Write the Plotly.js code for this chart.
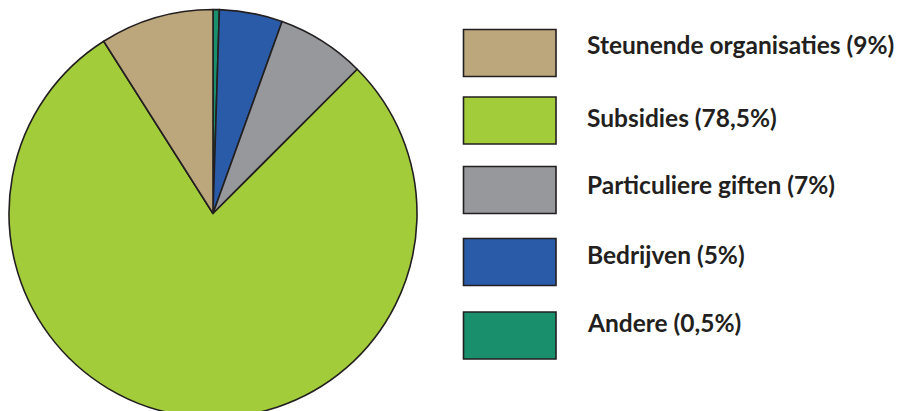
<!DOCTYPE html>
<html>
<head>
<meta charset="utf-8">
<script src="https://cdn.plot.ly/plotly-3.0.1.min.js"></script>
<style>
html, body { margin: 0; padding: 0; overflow: hidden; background: #fff; }
#chart { width: 898px; height: 430px; }
</style>
</head>
<body>
<div id="chart"></div>
<script>
// Data (legend order, top to bottom)
const categories = ['Steunende organisaties', 'Subsidies', 'Particuliere giften', 'Bedrijven', 'Andere'];
const values = [9, 78.5, 7, 5, 0.5];
const percentLabels = ['9%', '78,5%', '7%', '5%', '0,5%'];
const colors = ['#bca67b', '#a2cc3a', '#97989b', '#2a5ba8', '#1a8f6c'];

const W = 898, H = 430;
const px = x => x / W;
const py = y => 1 - y / H;

// Legend layout (pixels)
const boxX0 = 463.5, boxX1 = 556;
const boxTops = [29.5, 97, 166.5, 238.5, 312];
const boxH = 47;
const textX = 585;
const textMid = [45, 117.5, 184, 254, 322];

const shapes = [];
const annotations = [];
categories.forEach((c, i) => {
  shapes.push({
    type: 'rect', xref: 'paper', yref: 'paper',
    x0: px(boxX0), x1: px(boxX1), y0: py(boxTops[i] + boxH), y1: py(boxTops[i]),
    fillcolor: colors[i], line: { color: '#231f20', width: 1.6 }
  });
  annotations.push({
    xref: 'paper', yref: 'paper', x: px(textX), y: py(textMid[i]),
    xanchor: 'left', yanchor: 'middle', showarrow: false,
    text: c + ' (' + percentLabels[i] + ')',
    font: { family: 'Lato, sans-serif', size: 24.5, color: '#231f20', weight: 700 }
  });
});

// Pie drawn clockwise from 12 o'clock: Andere, Bedrijven, Particuliere, Subsidies, Steunende
const rev = a => a.slice().reverse();
const cx = 213, cy = 213.5, r = 204;
const trace = {
  type: 'pie',
  labels: rev(categories),
  values: rev(values),
  sort: false,
  direction: 'clockwise',
  rotation: 0,
  marker: { colors: rev(colors), line: { color: '#231f20', width: 1.6 } },
  textinfo: 'none',
  hoverinfo: 'label+percent',
  showlegend: false,
  domain: { x: [px(cx - r), px(cx + r)], y: [py(cy + r), py(cy - r)] }
};

Plotly.newPlot('chart', [trace], {
  width: W, height: H,
  margin: { l: 0, r: 0, t: 0, b: 0 },
  paper_bgcolor: '#fff',
  showlegend: false,
  shapes: shapes,
  annotations: annotations
}, { displayModeBar: false, staticPlot: true });
</script>
</body>
</html>
